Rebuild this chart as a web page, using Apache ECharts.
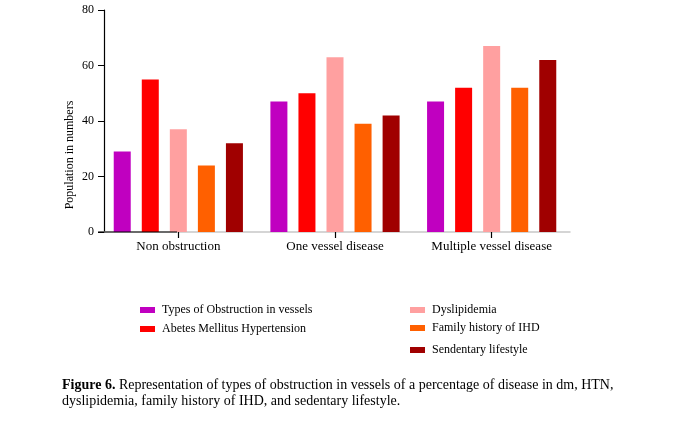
<!DOCTYPE html>
<html>
<head>
<meta charset="utf-8">
<script src="https://cdn.jsdelivr.net/npm/echarts@6/dist/echarts.min.js"></script>
<style>
  html, body { margin: 0; padding: 0; background: #fff; }
  #chart { width: 674px; height: 425px; }
</style>
</head>
<body>
<div id="chart"></div>
<script>
const categories = ['Non obstruction', 'One vessel disease', 'Multiple vessel disease']
const seriesNames = [
  'Types of Obstruction in vessels',
  'Abetes Mellitus Hypertension',
  'Dyslipidemia',
  'Family history of IHD',
  'Sendentary lifestyle'
]
const obstruction = [29, 47, 47]
const diabetesHtn = [55, 50, 52]
const dyslipidemia = [37, 63, 67]
const familyIhd = [24, 39, 52]
const sedentary = [32, 42, 62]
const yTicks = [0, 20, 40, 60, 80]

const colors = ['#c000c0', '#ff0000', '#ffa0a0', '#ff6000', '#a00000']
const values = [obstruction, diabetesHtn, dyslipidemia, familyIhd, sedentary]
const serif = '"Liberation Serif", "DejaVu Serif", serif'

const chart = echarts.init(document.getElementById('chart'), null, { renderer: 'canvas' })

// legend positions copy the two loose columns of the original
const legendPos = [
  { left: 140, top: 304, up: 0 },
  { left: 140, top: 323, up: 0 },
  { left: 410, top: 304, up: 8 },
  { left: 410, top: 322, up: 8 },
  { left: 410, top: 344, up: 8 }
]
const legends = seriesNames.map((n, i) => ({
  data: [n],
  left: legendPos[i].left,
  top: legendPos[i].top,
  itemWidth: 15, itemHeight: 6, itemGap: 0,
  icon: 'rect',
  padding: 0,
  selectedMode: false,
  textStyle: {
    fontFamily: serif, fontSize: 12, color: '#000',
    padding: [0, 0, legendPos[i].up, 2]
  }
}))

chart.setOption({
  animation: false,
  color: colors,
  legend: legends,
  grid: { left: 100, top: 10, width: 470, height: 222 },
  xAxis: {
    type: 'category', data: categories,
    axisLine: { lineStyle: { color: '#c8c8c8', width: 1.5 } },
    axisTick: { show: true, alignWithLabel: true, interval: 0, length: 6, lineStyle: { color: '#000', width: 1.2 } },
    axisLabel: { interval: 0, fontFamily: serif, fontSize: 13, color: '#000', margin: 8 }
  },
  yAxis: {
    type: 'value', min: 0, max: 80, interval: 20, offset: -4,
    axisLine: { show: true, lineStyle: { color: '#000', width: 1.2 } },
    axisTick: { show: true, length: 6, lineStyle: { color: '#000' } },
    splitLine: { show: false },
    axisLabel: {
      fontFamily: serif, fontSize: 12, color: '#000', margin: 10,
      formatter: v => yTicks.includes(v) ? String(v) : ''
    }
  },
  graphic: [
    {
      type: 'line', z: 10,
      shape: { x1: 98, y1: 232, x2: 177, y2: 232 },
      style: { stroke: '#000', lineWidth: 1.2 }
    },
    {
      type: 'text', x: 70, y: 155, rotation: Math.PI / 2,
      style: {
        text: 'Population in numbers', fontFamily: serif, fontSize: 12,
        fill: '#000', align: 'center', verticalAlign: 'middle'
      }
    },
    {
      type: 'text', left: 62, top: 377,
      style: {
        text: '{b|Figure 6.} Representation of types of obstruction in vessels of a percentage of disease in dm, HTN,\ndyslipidemia, family history of IHD, and sedentary lifestyle.',
        fontFamily: serif, fontSize: 14, fill: '#000', lineHeight: 16,
        rich: { b: { fontWeight: 'bold', fontFamily: serif, fontSize: 14, lineHeight: 16 } }
      }
    }
  ],
  series: values.map((d, i) => ({
    name: seriesNames[i], type: 'bar', data: d,
    barWidth: 17, barGap: '65%'
  }))
})
</script>
</body>
</html>
